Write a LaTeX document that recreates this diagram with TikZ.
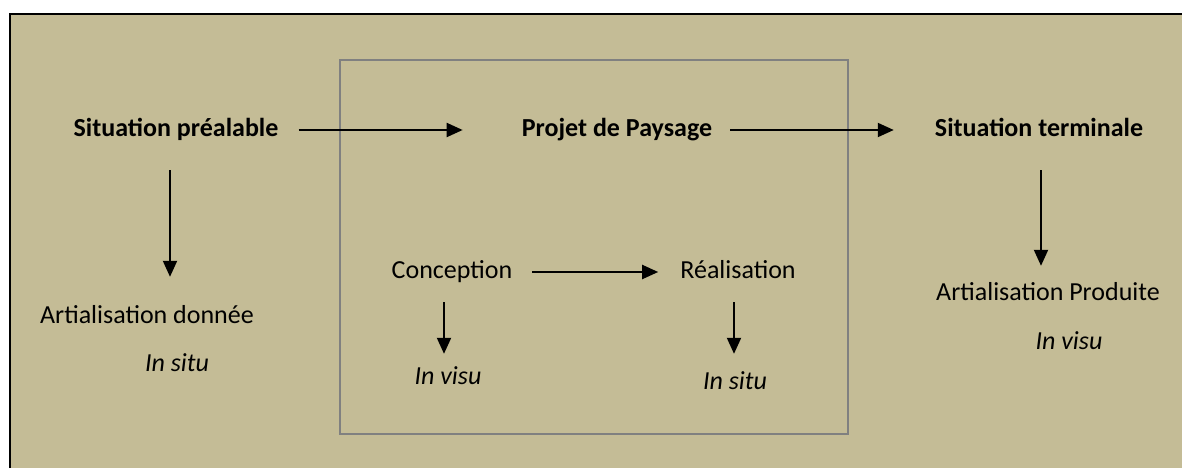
\documentclass[tikz,border=0pt]{standalone}
\usepackage{fontspec}
\setmainfont{Carlito}
\usetikzlibrary{arrows.meta, positioning}
\definecolor{tan}{HTML}{C4BC96}

\begin{document}
\begin{tikzpicture}[
  x=1pt, y=1pt,
  txt/.style={inner sep=0pt, text height=19pt, text depth=6pt, font=\fontsize{26}{30}\selectfont},
  head/.style={txt, font=\fontsize{26}{30}\selectfont\bfseries},
  mode/.style={txt, font=\fontsize{26}{30}\selectfont\itshape},
  flow/.style={line width=2pt, -{Triangle[length=16pt,width=14pt]}}]

  \useasboundingbox (0,0) rectangle (1182,-468);
  \fill[white] (0,0) rectangle (1182,-468);
  \fill[tan] (10,-14) rectangle (1182,-468);
  \draw[line width=2.5pt] (10,-468) -- (10,-14) -- (1182,-14);
  \draw[gray, line width=1.6pt] (340,-60) rectangle (848,-434);

  \node[head] (pre) at (176,-130) {Situation préalable};
  \node[head] (projet) at (617,-130) {Projet de Paysage};
  \node[head] (term) at (1039,-130) {Situation terminale};
  \node[txt] (donnee) at (147,-317) {Artialisation donnée};
  \node[mode] (situL) at (177,-365) {In situ};
  \node[txt] (concep) at (452,-272) {Conception};
  \node[txt] (real) at (738,-272) {Réalisation};
  \node[mode] (visuC) at (448,-378) {In visu};
  \node[mode] (situR) at (735,-383) {In situ};
  \node[txt] (produite) at (1048,-294) {Artialisation Produite};
  \node[mode] (visuR) at (1069,-343) {In visu};

  \draw[flow, shorten <=20pt, shorten >=59pt] (pre.east) -- (projet.west);
  \draw[flow, shorten <=18pt, shorten >=41pt] (projet.east) -- (term.west);
  \draw[flow, shorten <=20pt, shorten >=22pt] (concep.east) -- (real.west);
  \draw[flow, shorten <=27.5pt, shorten >=27.5pt] ([xshift=-6pt]pre.south) -- ([xshift=-6pt]pre.south |- donnee.north);
  \draw[flow, shorten <=17.5pt, shorten >=11.5pt] ([xshift=-8pt]concep.south) -- ([xshift=-8pt]concep.south |- visuC.north);
  \draw[flow, shorten <=17.5pt, shorten >=16.5pt] ([xshift=-4pt]real.south) -- ([xshift=-4pt]real.south |- situR.north);
  \draw[flow, shorten <=27.5pt, shorten >=15.5pt] ([xshift=2pt]term.south) -- ([xshift=2pt]term.south |- produite.north);
\end{tikzpicture}
\end{document}
